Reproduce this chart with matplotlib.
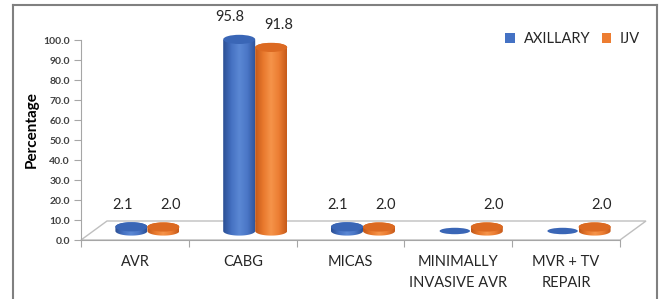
import numpy as np
import matplotlib
matplotlib.use("Agg")
import matplotlib.pyplot as plt
from matplotlib.path import Path
from matplotlib.patches import PathPatch, Ellipse, Polygon, Patch
from matplotlib.colors import LinearSegmentedColormap
from matplotlib.lines import Line2D

categories = ["AVR", "CABG", "MICAS", "MINIMALLY\nINVASIVE AVR", "MVR + TV\nREPAIR"]
axillary = [2.1, 95.8, 2.1, 0.0, 0.0]
ijv = [2.0, 91.8, 2.0, 2.0, 2.0]
series_names = ["AXILLARY", "IJV"]
yticks = [0, 10, 20, 30, 40, 50, 60, 70, 80, 90, 100]

W, H = 662, 299
fig = plt.figure(figsize=(W / 100, H / 100), dpi=100)
plt.rcParams['font.family'] = ['Lato', 'DejaVu Sans']

# axes: x 81..620 px, y 240..40 px
ax = fig.add_axes([81 / W, (H - 240) / H, (620 - 81) / W, 200 / H])
ax.set_xlim(-0.5, 4.5)
ax.set_ylim(0, 100)
ax.set_facecolor("none")

pxx = 539 / 5.0  # px per x unit
pxy = 2.0        # px per y unit
depth_dx = 26 / pxx
depth_dy = 19 / pxy

# floor
floor = Polygon([(-0.5, 0), (-0.5 + depth_dx, depth_dy), (4.5 + depth_dx, depth_dy), (4.5, 0)],
                closed=True, facecolor="white", edgecolor="#BFBFBF", lw=1.0, clip_on=False, zorder=1)
ax.add_patch(floor)

grey = "#A6A6A6"
for s in ["top", "right"]:
    ax.spines[s].set_visible(False)
ax.spines["left"].set_color(grey)
ax.spines["bottom"].set_color(grey)
ax.spines["left"].set_zorder(2)
ax.spines["bottom"].set_zorder(2)

ax.set_yticks(yticks)
ax.set_yticklabels([f"{v:.1f}" for v in yticks], fontsize=7.5, fontweight="bold", color="#404040")
ax.tick_params(axis="y", length=5, color=grey, pad=3)
ax.set_xticks(np.arange(-0.5, 5.0, 1.0))
ax.set_xticklabels([])
ax.tick_params(axis="x", which="major", length=5, color=grey)
ax.set_xticks(np.arange(len(categories)), minor=True)
ax.set_xticklabels(categories, minor=True, fontsize=10.5, color="#262626", linespacing=1.65, va="top")
ax.tick_params(axis="x", which="minor", length=0, pad=11)

ax.set_ylabel("Percentage", fontsize=11, fontweight="bold", color="black")
ax.yaxis.set_label_coords(-0.078, 0.55)

bar_w = 32 / pxx
base = 4.5
ry = 2.3
offsets = [-3.5 / pxx, 28.5 / pxx]

blue_cmap = LinearSegmentedColormap.from_list("b", ["#2B4F94", "#4571C2", "#5B88D4", "#4A76C6", "#2C5299"])
orange_cmap = LinearSegmentedColormap.from_list("o", ["#C2581A", "#E8782C", "#F5944A", "#EC7E33", "#C75B1B"])
cap_colors = ["#3A66B6", "#DC6A22"]
cmaps = [blue_cmap, orange_cmap]
label_dx = [-9 / pxx, 7 / pxx]


def cylinder(xc, value, cmap, cap, z):
    top = base + value
    x0, x1 = xc - bar_w / 2, xc + bar_w / 2
    t = np.linspace(np.pi, 2 * np.pi, 60)
    bot = np.column_stack([xc + bar_w / 2 * np.cos(t), base + ry * np.sin(t)])
    t2 = np.linspace(0, np.pi, 60)
    topc = np.column_stack([xc + bar_w / 2 * np.cos(t2), top + ry * np.sin(t2)])
    verts = np.vstack([[x0, top], bot, [x1, top], topc, [x0, top]])
    path = Path(verts)
    if value > 0:
        patch = PathPatch(path, facecolor="none", edgecolor="none", clip_on=False)
        ax.add_patch(patch)
        grad = np.linspace(0, 1, 64).reshape(1, -1)
        im = ax.imshow(grad, extent=[x0, x1, base - ry, top + ry], cmap=cmap, aspect="auto",
                       origin="lower", zorder=z, interpolation="bilinear")
        im.set_clip_on(True)
        im.set_clip_path(patch)
        im.set_clip_box(None)
        ax.add_patch(Ellipse((xc, top), bar_w, 2 * ry, facecolor=cap, edgecolor="none",
                             zorder=z + 0.1, clip_on=False))
    else:
        ax.add_patch(Ellipse((xc, top), bar_w * 0.95, 2 * ry * 0.7, facecolor=cap, edgecolor="none",
                             zorder=z + 0.1, clip_on=False))


for si, vals in enumerate([axillary, ijv]):
    for i, v in enumerate(vals):
        xc = i + offsets[si]
        cylinder(xc, v, cmaps[si], cap_colors[si], 3 + si)
        if v > 0:
            ax.text(xc + label_dx[si], base + v + 11, f"{v:.1f}", ha="center", va="center",
                    fontsize=10.5, color="#262626", zorder=6)

ax.set_xlim(-0.5, 4.5)
ax.set_ylim(0, 100)

handles = [Patch(facecolor="#4472C4", edgecolor="none"), Patch(facecolor="#ED7D31", edgecolor="none")]
fig.legend(handles, series_names, loc="center left", bbox_to_anchor=(498 / W, 1 - 39 / H), ncol=2,
           frameon=False, fontsize=10.5, handlelength=0.65, handleheight=0.65, handletextpad=0.6,
           columnspacing=0.8, borderpad=0, labelcolor="#262626")

# outer frame
fc = "#808080"
fig.add_artist(Line2D([13 / W, 13 / W], [0, 1 - 5 / H], transform=fig.transFigure, color=fc, lw=1.5))
fig.add_artist(Line2D([13 / W, 657 / W], [1 - 5 / H, 1 - 5 / H], transform=fig.transFigure, color=fc, lw=1.5))
fig.add_artist(Line2D([657 / W, 657 / W], [0, 1 - 5 / H], transform=fig.transFigure, color=fc, lw=1.5))

fig.savefig("out.png", dpi=100)
